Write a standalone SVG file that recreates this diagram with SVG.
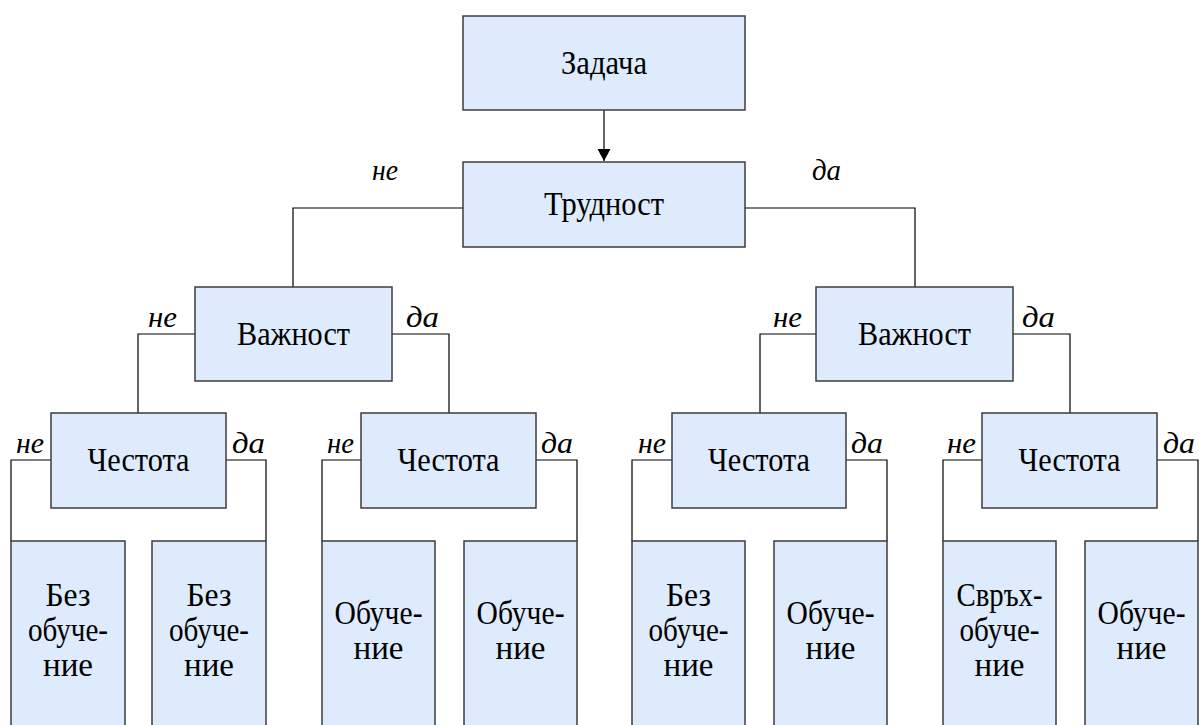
<svg xmlns="http://www.w3.org/2000/svg" width="1199" height="725" viewBox="0 0 1199 725" font-family="'Liberation Serif', 'DejaVu Serif', 'Noto Serif', serif">
  <style>
    .box { fill: #ddebfc; stroke: #3c3c3c; stroke-width: 1.5; }
    .wire { fill: none; stroke: #000; stroke-width: 1.2; }
    .t { font-size: 33px; fill: #000; text-anchor: middle; }
    .lbl { font-size: 30px; font-style: italic; fill: #000; }
  </style>
  <defs>
    <marker id="arrow" viewBox="0 0 12 16" refX="12" refY="8" markerWidth="12" markerHeight="16" markerUnits="userSpaceOnUse" orient="auto">
      <path d="M0,1.5 L12,8 L0,14.5 Z" fill="#000"/>
    </marker>
  </defs>

  <rect width="1199" height="725" fill="#fff"/>

  <!-- connectors -->
  <g id="connectors">
    <line class="wire" x1="604" y1="110" x2="604" y2="161" marker-end="url(#arrow)"/>
    <path class="wire" d="M463,208 H293 V287"/>
    <path class="wire" d="M745,208 H915 V287"/>
    <path class="wire" d="M195,334 H138 V413"/>
    <path class="wire" d="M392,334 H449 V413"/>
    <path class="wire" d="M816,334 H760 V413"/>
    <path class="wire" d="M1013,334 H1070 V413"/>
    <path class="wire" d="M51,460 H11 V541"/>
    <path class="wire" d="M226,460 H266 V541"/>
    <path class="wire" d="M361,460 H322 V541"/>
    <path class="wire" d="M536,460 H577 V541"/>
    <path class="wire" d="M672,460 H632 V541"/>
    <path class="wire" d="M846,460 H887 V541"/>
    <path class="wire" d="M982,460 H943 V541"/>
    <path class="wire" d="M1157,460 H1198 V541"/>

    <!-- branch labels -->
    <text class="lbl" x="372" y="180" textLength="26" lengthAdjust="spacingAndGlyphs">не</text>
    <text class="lbl" x="812" y="180" textLength="29" lengthAdjust="spacingAndGlyphs">да</text>
    <text class="lbl" x="148" y="327" textLength="29" lengthAdjust="spacingAndGlyphs">не</text>
    <text class="lbl" x="406" y="327" textLength="33" lengthAdjust="spacingAndGlyphs">да</text>
    <text class="lbl" x="773" y="327" textLength="29" lengthAdjust="spacingAndGlyphs">не</text>
    <text class="lbl" x="1022" y="327" textLength="33" lengthAdjust="spacingAndGlyphs">да</text>
    <text class="lbl" x="16" y="453" textLength="28" lengthAdjust="spacingAndGlyphs">не</text>
    <text class="lbl" x="232" y="453" textLength="33" lengthAdjust="spacingAndGlyphs">да</text>
    <text class="lbl" x="327" y="453" textLength="27" lengthAdjust="spacingAndGlyphs">не</text>
    <text class="lbl" x="541" y="453" textLength="32" lengthAdjust="spacingAndGlyphs">да</text>
    <text class="lbl" x="638" y="453" textLength="28" lengthAdjust="spacingAndGlyphs">не</text>
    <text class="lbl" x="851" y="453" textLength="32" lengthAdjust="spacingAndGlyphs">да</text>
    <text class="lbl" x="947" y="453" textLength="29" lengthAdjust="spacingAndGlyphs">не</text>
    <text class="lbl" x="1163" y="453" textLength="32" lengthAdjust="spacingAndGlyphs">да</text>
  </g>

  <!-- decision nodes -->
  <g id="n-zadacha">
    <rect class="box" x="463" y="16" width="282" height="94"/>
    <text class="t" x="604" y="74" textLength="86" lengthAdjust="spacingAndGlyphs">Задача</text>
  </g>
  <g id="n-trudnost">
    <rect class="box" x="463" y="162" width="282" height="85"/>
    <text class="t" x="604" y="215" textLength="120" lengthAdjust="spacingAndGlyphs">Трудност</text>
  </g>
  <g id="n-vazhnost-1">
    <rect class="box" x="195" y="287" width="197" height="94"/>
    <text class="t" x="293.5" y="345" textLength="113" lengthAdjust="spacingAndGlyphs">Важност</text>
  </g>
  <g id="n-vazhnost-2">
    <rect class="box" x="816" y="287" width="197" height="94"/>
    <text class="t" x="914.5" y="345" textLength="113" lengthAdjust="spacingAndGlyphs">Важност</text>
  </g>
  <g id="n-chestota-1">
    <rect class="box" x="51" y="413" width="175" height="95"/>
    <text class="t" x="138.5" y="471" textLength="102" lengthAdjust="spacingAndGlyphs">Честота</text>
  </g>
  <g id="n-chestota-2">
    <rect class="box" x="361" y="413" width="175" height="95"/>
    <text class="t" x="448.5" y="471" textLength="102" lengthAdjust="spacingAndGlyphs">Честота</text>
  </g>
  <g id="n-chestota-3">
    <rect class="box" x="672" y="413" width="174" height="95"/>
    <text class="t" x="759" y="471" textLength="102" lengthAdjust="spacingAndGlyphs">Честота</text>
  </g>
  <g id="n-chestota-4">
    <rect class="box" x="982" y="413" width="175" height="95"/>
    <text class="t" x="1069.5" y="471" textLength="102" lengthAdjust="spacingAndGlyphs">Честота</text>
  </g>

  <!-- outcome nodes (run past the bottom edge) -->
  <g id="leaf-1">
    <rect class="box" x="11" y="541" width="114" height="200"/>
    <text class="t" x="68" y="606" textLength="45" lengthAdjust="spacingAndGlyphs">Без</text>
    <text class="t" x="68" y="641" textLength="80" lengthAdjust="spacingAndGlyphs">обуче-</text>
    <text class="t" x="68" y="676" textLength="50" lengthAdjust="spacingAndGlyphs">ние</text>
  </g>
  <g id="leaf-2">
    <rect class="box" x="152" y="541" width="114" height="200"/>
    <text class="t" x="209" y="606" textLength="45" lengthAdjust="spacingAndGlyphs">Без</text>
    <text class="t" x="209" y="641" textLength="80" lengthAdjust="spacingAndGlyphs">обуче-</text>
    <text class="t" x="209" y="676" textLength="50" lengthAdjust="spacingAndGlyphs">ние</text>
  </g>
  <g id="leaf-3">
    <rect class="box" x="322" y="541" width="113" height="200"/>
    <text class="t" x="378.5" y="624" textLength="88" lengthAdjust="spacingAndGlyphs">Обуче-</text>
    <text class="t" x="378.5" y="659" textLength="50" lengthAdjust="spacingAndGlyphs">ние</text>
  </g>
  <g id="leaf-4">
    <rect class="box" x="464" y="541" width="113" height="200"/>
    <text class="t" x="520.5" y="624" textLength="88" lengthAdjust="spacingAndGlyphs">Обуче-</text>
    <text class="t" x="520.5" y="659" textLength="50" lengthAdjust="spacingAndGlyphs">ние</text>
  </g>
  <g id="leaf-5">
    <rect class="box" x="632" y="541" width="113" height="200"/>
    <text class="t" x="688.5" y="606" textLength="45" lengthAdjust="spacingAndGlyphs">Без</text>
    <text class="t" x="688.5" y="641" textLength="80" lengthAdjust="spacingAndGlyphs">обуче-</text>
    <text class="t" x="688.5" y="676" textLength="50" lengthAdjust="spacingAndGlyphs">ние</text>
  </g>
  <g id="leaf-6">
    <rect class="box" x="774" y="541" width="113" height="200"/>
    <text class="t" x="830.5" y="624" textLength="88" lengthAdjust="spacingAndGlyphs">Обуче-</text>
    <text class="t" x="830.5" y="659" textLength="50" lengthAdjust="spacingAndGlyphs">ние</text>
  </g>
  <g id="leaf-7">
    <rect class="box" x="943" y="541" width="113" height="200"/>
    <text class="t" x="999.5" y="606" textLength="86" lengthAdjust="spacingAndGlyphs">Свръх-</text>
    <text class="t" x="999.5" y="641" textLength="80" lengthAdjust="spacingAndGlyphs">обуче-</text>
    <text class="t" x="999.5" y="676" textLength="50" lengthAdjust="spacingAndGlyphs">ние</text>
  </g>
  <g id="leaf-8">
    <rect class="box" x="1085" y="541" width="113" height="200"/>
    <text class="t" x="1141.5" y="624" textLength="88" lengthAdjust="spacingAndGlyphs">Обуче-</text>
    <text class="t" x="1141.5" y="659" textLength="50" lengthAdjust="spacingAndGlyphs">ние</text>
  </g>
</svg>
